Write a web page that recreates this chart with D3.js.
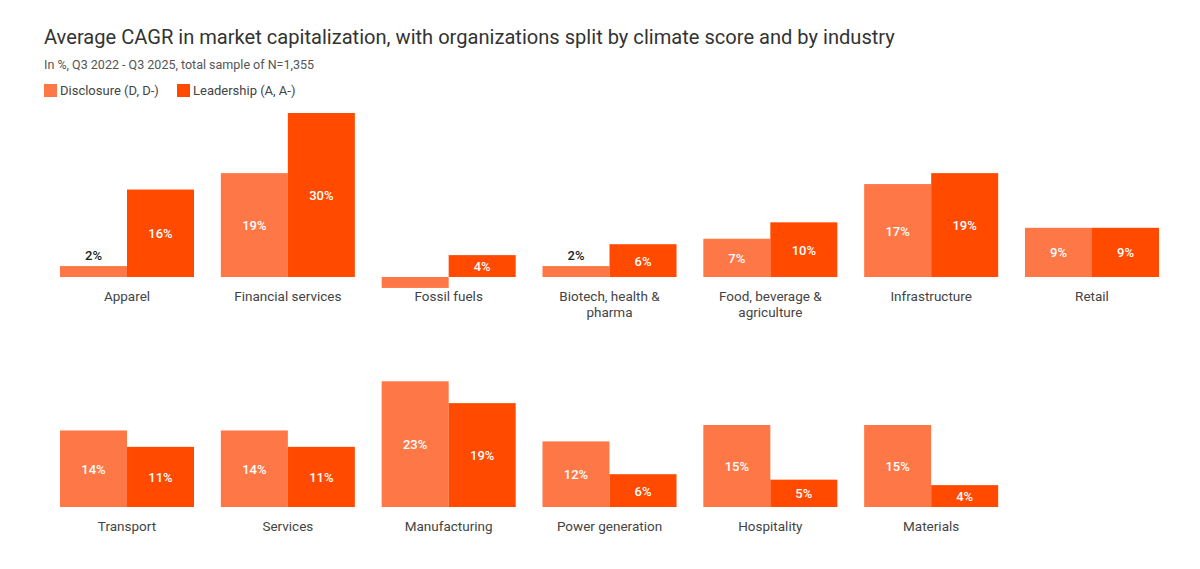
<!DOCTYPE html>
<html>
<head>
<meta charset="utf-8">
<script src="https://cdn.jsdelivr.net/npm/d3@7"></script>
<style>
  body { margin: 0; background: #fff; font-family: Roboto, "Noto Sans", sans-serif; }
  svg text { font-family: Roboto, "Noto Sans", sans-serif; }
</style>
</head>
<body>
<svg id="chart" width="1200" height="569"></svg>
<script>
// data
const categories = ['Apparel', 'Financial services', 'Fossil fuels', 'Biotech, health & pharma',
  'Food, beverage & agriculture', 'Infrastructure', 'Retail',
  'Transport', 'Services', 'Manufacturing', 'Power generation', 'Hospitality', 'Materials'];
const disclosure = [2, 19, -2, 2, 7, 17, 9, 14, 14, 23, 12, 15, 15];
const leadership = [16, 30, 4, 6, 10, 19, 9, 11, 11, 19, 6, 5, 4];
const seriesNames = ['Disclosure (D, D-)', 'Leadership (A, A-)'];
const colors = ['#fe7747', '#ff4a00'];
const perRow = 7;

const svg = d3.select('#chart');

// title block
svg.append('text').attr('x', 44).attr('y', 44)
  .attr('font-size', 20.1).attr('fill', '#333')
  .text('Average CAGR in market capitalization, with organizations split by climate score and by industry');
svg.append('text').attr('x', 44).attr('y', 69)
  .attr('font-size', 12.5).attr('fill', '#555')
  .text('In %, Q3 2022 - Q3 2025, total sample of N=1,355');

const legend = svg.append('g').attr('transform', 'translate(44,84)');
const legX = [0, 133];
seriesNames.forEach((s, i) => {
  const g = legend.append('g').attr('transform', `translate(${legX[i]},0)`);
  g.append('rect').attr('width', 13).attr('height', 13).attr('fill', colors[i]);
  g.append('text').attr('x', 16).attr('y', 11).attr('font-size', 13).attr('fill', '#444').text(s);
});

// scales
const col = d3.scaleBand().domain(d3.range(perRow)).range([46.6, 1172.4])
  .paddingInner(0.1667).paddingOuter(0.0833);
const inner = d3.scaleBand().domain([0, 1]).range([0, col.bandwidth()]);
const y = d3.scaleLinear().domain([0, 30]).range([0, -164]);
const rowBase = [277, 507];

const data = categories.map((c, i) => ({
  name: c, idx: i, row: Math.floor(i / perRow), col: i % perRow,
  values: [disclosure[i], leadership[i]]
}));

const panels = svg.append('g').selectAll('.panel')
  .data(data).enter().append('g')
  .attr('class', 'panel')
  .attr('transform', d => `translate(${col(d.col)},${rowBase[d.row]})`);

panels.selectAll('rect')
  .data(d => d.values.map((v, k) => ({v, k})))
  .enter().append('rect')
  .attr('x', d => inner(d.k))
  .attr('width', inner.bandwidth())
  .attr('y', d => Math.min(y(d.v), y(0)))
  .attr('height', d => Math.abs(y(d.v) - y(0)))
  .attr('fill', d => colors[d.k]);

panels.selectAll('.val')
  .data(d => d.values.map((v, k) => ({v, k})).filter(d => d.v > 0))
  .enter().append('text')
  .attr('class', 'val')
  .attr('x', d => inner(d.k) + inner.bandwidth() / 2)
  .attr('y', d => d.v < 3 ? y(d.v) - 6 : y(d.v / 2) + 5)
  .attr('text-anchor', 'middle')
  .attr('font-size', 13)
  .attr('font-weight', 500)
  .attr('fill', d => d.v < 3 ? '#222' : '#fff')
  .text(d => d.v + '%');

// category labels, wrapped
panels.append('text')
  .attr('class', 'cat')
  .attr('x', col.bandwidth() / 2)
  .attr('y', 24)
  .attr('text-anchor', 'middle')
  .attr('font-size', 13.5)
  .attr('fill', '#444')
  .each(function(d) {
    const t = d3.select(this);
    const words = d.name.split(' ');
    let line = [], lines = [];
    const probe = t.append('tspan');
    words.forEach(w => {
      probe.text([...line, w].join(' '));
      if (probe.node().getComputedTextLength() > 125 && line.length) {
        lines.push(line.join(' '));
        line = [w];
      } else line.push(w);
    });
    lines.push(line.join(' '));
    probe.remove();
    lines.forEach((l, i) => {
      t.append('tspan').attr('x', col.bandwidth() / 2).attr('dy', i ? 16 : 0).text(l);
    });
  });
</script>
</body>
</html>
